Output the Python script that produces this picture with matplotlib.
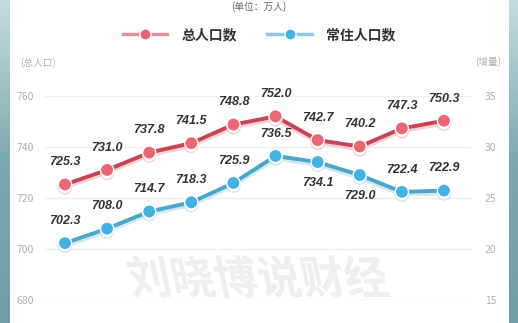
import numpy as np
import matplotlib
matplotlib.use('Agg')
import matplotlib.pyplot as plt
import matplotlib.patheffects as pe
from matplotlib.lines import Line2D
from matplotlib.textpath import TextPath
from matplotlib.patches import PathPatch
from matplotlib.font_manager import FontProperties
from matplotlib.transforms import Affine2D, IdentityTransform
from matplotlib.colors import LinearSegmentedColormap

plt.rcParams['font.family'] = ['Noto Sans CJK SC', 'DejaVu Sans']

years = list(range(10))
total_pop = [725.3, 731.0, 737.8, 741.5, 748.8, 752.0, 742.7, 740.2, 747.3, 750.3]
resident_pop = [702.3, 708.0, 714.7, 718.3, 725.9, 736.5, 734.1, 729.0, 722.4, 722.9]
resident_below = [False, False, False, False, False, False, True, True, False, False]
left_ticks = [680, 700, 720, 740, 760]
right_ticks = [15, 20, 25, 30, 35]

W, H = 518, 323
fig = plt.figure(figsize=(W / 100, H / 100), dpi=100)
fig.patch.set_facecolor('white')

# teal side strips
grad = np.linspace(0, 1, 100).reshape(-1, 1)
tcmap = LinearSegmentedColormap.from_list('t', ['#c3dadd', '#7fa9ae', '#6f9ca2'])
for x0, w in [(0, 10), (509, 9)]:
    sa = fig.add_axes([x0 / W, 0, w / W, 1])
    sa.imshow(grad, aspect='auto', cmap=tcmap)
    sa.axis('off')

# main axes
ax_left, ax_right = 45, 471
y760, y680 = 96, 300
ax = fig.add_axes([ax_left / W, 1 - y680 / H, (ax_right - ax_left) / W, (y680 - y760) / H])
ax.set_ylim(680, 760)
ax.set_xlim(-(65 - ax_left) / 42.1, 9 + (ax_right - 444) / 42.1)
ax.set_facecolor('none')
for s in ax.spines.values():
    s.set_visible(False)
ax.set_yticks(left_ticks)
ax.tick_params(axis='y', length=0, labelsize=7.5, labelcolor='#b0b0b0', pad=8)
ax.set_xticks([])
ax.grid(axis='y', color='#efefef', linewidth=1)
ax.set_axisbelow(True)

ax2 = ax.twinx()
ax2.set_ylim(15, 35)
ax2.set_yticks(right_ticks)
ax2.tick_params(axis='y', length=0, labelsize=7.5, labelcolor='#b0b0b0', pad=10)
for s in ax2.spines.values():
    s.set_visible(False)

# watermark
fp = FontProperties(family='Noto Sans CJK SC', weight='bold')
tp = TextPath((0, 0), '刘晓博说财经', size=100, prop=fp)
ext = tp.get_extents()
sc = 258 / ext.width
tr = Affine2D().translate(-ext.x0, -ext.y0).scale(sc, sc * 1.05).skew_deg(-12, 0).translate(133, H - 298)
wm = PathPatch(tp, transform=tr + IdentityTransform(), facecolor='#efefef', edgecolor='none', zorder=1)
fig.patches.append(wm)

red_line, red_mk = '#c94452', '#ec6570'
blue_line, blue_mk = '#4ba6c9', '#42b1e4'

ax.plot(years, total_pop, color=red_line, linewidth=2.8, marker='o', markersize=9.5,
        markerfacecolor=red_mk, markeredgecolor='white', markeredgewidth=1.0, zorder=4,
        path_effects=[pe.SimpleLineShadow(offset=(0, -2), shadow_color='#f4c6cb', alpha=0.8), pe.Normal()])
ax.plot(years, resident_pop, color=blue_line, linewidth=2.8, marker='o', markersize=9.5,
        markerfacecolor=blue_mk, markeredgecolor='white', markeredgewidth=1.0, zorder=4,
        path_effects=[pe.SimpleLineShadow(offset=(0, -2), shadow_color='#c5e3ee', alpha=0.8), pe.Normal()])

lab_kw = dict(ha='center', va='center', fontsize=9, fontweight='bold', style='italic',
              color='#333333', family='Liberation Sans', zorder=5, textcoords='offset points')
for x, v in zip(years, total_pop):
    ax.annotate(f'{v:.1f}', (x, v), xytext=(0, 16), **lab_kw)
for x, v, b in zip(years, resident_pop, resident_below):
    ax.annotate(f'{v:.1f}', (x, v), xytext=(0, -15 if b else 16), **lab_kw)

# legend
handles = [
    Line2D([], [], color='#e68e97', linewidth=2.5, marker='o', markersize=8,
           markerfacecolor='#e8606c', markeredgecolor='white', markeredgewidth=1),
    Line2D([], [], color='#8cc9e2', linewidth=2.5, marker='o', markersize=8,
           markerfacecolor='#3fb2e6', markeredgecolor='white', markeredgewidth=1),
]
fig.legend(handles, ['总人口数', '常住人口数'], loc='center', bbox_to_anchor=(0.5, 1 - 35 / H),
           ncol=2, frameon=False, handlelength=3.2, columnspacing=2.2, handletextpad=1.0,
           prop=FontProperties(family='Noto Sans CJK SC', weight='bold', size=10))
for t in fig.legends[0].get_texts():
    t.set_color('#333333')

fig.text(0.5, 1 - 7 / H, '(单位：万人)', ha='center', va='center', fontsize=7, color='#666666')
fig.text(38 / W, 1 - 63 / H, '(总人口)', ha='center', va='center', fontsize=7, color='#b0b0b0')
fig.text(488 / W, 1 - 62 / H, '(增量)', ha='center', va='center', fontsize=7, color='#b0b0b0')

fig.savefig('out.png', dpi=100)
